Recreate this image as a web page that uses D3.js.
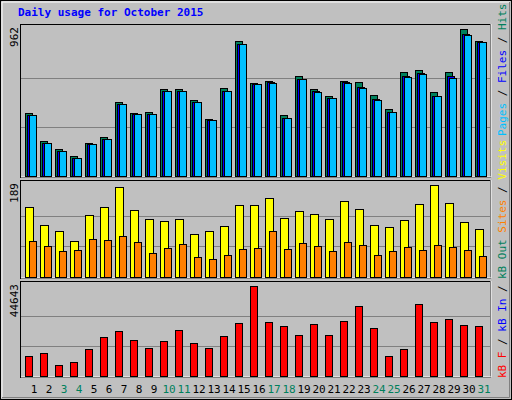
<!DOCTYPE html>
<html><head><meta charset="utf-8">
<script src="https://cdn.jsdelivr.net/npm/d3@7"></script>
<style>body{margin:0;background:#c0c0c0}svg{display:block}text{font-family:"DejaVu Sans Mono",monospace}</style>
</head><body><svg id="c" width="512" height="400"></svg>
<script>
"use strict";

const days = d3.range(1, 32);
const weekend = [3, 4, 10, 11, 17, 18, 24, 25, 31];
const hits = [411,227,175,129,214,254,485,411,418,568,568,496,372,575,883,608,621,398,654,568,522,621,614,529,437,680,693,549,680,962,883];
const files = [402,218,166,120,210,244,474,407,408,559,559,487,368,559,867,604,612,382,638,553,513,612,581,503,422,654,673,526,654,929,880];
const pages = [398,214,162,116,208,240,470,404,404,555,555,483,365,555,863,601,608,378,634,549,509,608,575,496,418,647,667,522,640,922,877];
const visits = [144,107,95,74,127,144,185,138,119,115,119,88,95,105,148,148,162,121,136,129,119,156,140,107,103,117,150,189,152,113,99];
const sites = [74,64,53,55,78,76,84,72,49,60,68,41,37,45,58,60,95,58,70,64,53,72,66,45,53,62,55,66,62,55,43];
const kbytes = [9943,11410,5542,7009,13366,19234,22168,17767,13855,17278,22657,16300,13855,19723,26080,44643,26569,24613,20212,25591,20212,27058,34882,23635,9943,13366,35860,26569,28036,25102,24613];

const svg = d3.select("#c");
const x = d3.scaleBand().domain(days).range([21, 486]).paddingInner(0);

// outer frame
svg.append("rect").attr("x", 0.5).attr("y", 0.5).attr("width", 511).attr("height", 399)
   .attr("fill", "#c0c0c0").attr("stroke", "#000");
svg.append("path").attr("d", "M2,398V2H510").attr("fill", "none").attr("stroke", "#fff");
svg.append("path").attr("d", "M2,397.5H509.5V2").attr("fill", "none").attr("stroke", "#808080");

svg.append("text").attr("x", 18).attr("y", 16).attr("fill", "#0000ff")
   .attr("font-size", 11).attr("font-weight", "bold").text("Daily usage for October 2015");

function panel(top, bottom, max, label, series, legend)
{
    let y = d3.scaleLinear().domain([0, max]).range([bottom - 1, top + 5]);
    svg.append("rect").attr("x", 20.5).attr("y", top + 0.5).attr("width", 470).attr("height", bottom - top)
       .attr("fill", "#c0c0c0").attr("stroke", "#000");
    svg.append("path").attr("d", `M21,${bottom}H491V${top}`).attr("fill", "none").attr("stroke", "#fff");
    [1 / 3, 2 / 3].forEach((f) =>
    {
        svg.append("line").attr("x1", 21).attr("x2", 490)
           .attr("y1", Math.round(y(max * f)) + 0.5).attr("y2", Math.round(y(max * f)) + 0.5)
           .attr("stroke", "#808080");
    });
    series.forEach((s) =>
    {
        svg.append("g").selectAll("rect").data(s.data).join("rect")
           .attr("x", (d, i) => x(days[i]) + 4 + s.off + 0.5)
           .attr("y", (d) => Math.round(y(d)) + 0.5)
           .attr("width", s.w)
           .attr("height", (d) => bottom - 1 - Math.round(y(d)))
           .attr("fill", s.color).attr("stroke", "#000");
    });
    svg.append("text").attr("transform", `translate(18,${top + 3}) rotate(-90)`)
       .attr("text-anchor", "end").attr("font-size", 11).attr("fill", "#000").text(label);
    let t = svg.append("text").attr("transform", `translate(506,${legend.y}) rotate(-90)`)
       .attr("font-size", 11);
    legend.parts.forEach((p) => t.append("tspan").attr("fill", p[1]).text(p[0]));
}

panel(24, 177, 962, "962", [
    {data: hits, color: "#00805c", off: 0, w: 7},
    {data: files, color: "#0000ff", off: 2, w: 7},
    {data: pages, color: "#00c0ff", off: 4, w: 7}
], {y: 136, parts: [["Pages", "#00c0ff"], [" / ", "#000"], ["Files", "#0000ff"], [" / ", "#000"], ["Hits", "#00805c"]]});

panel(180, 278, 189, "189", [
    {data: visits, color: "#ffff00", off: 0, w: 8},
    {data: sites, color: "#ff8000", off: 4, w: 7}
], {y: 279, parts: [["kB Out ", "#00805c"], ["Sites", "#ff8000"], [" / ", "#000"], ["Visits", "#ffff00"]]});

panel(281, 377, 44643, "44643", [
    {data: kbytes, color: "#ff0000", off: 0, w: 7}
], {y: 378, parts: [["kB F", "#ff0000"], [" / ", "#000"], ["kB In", "#0000ff"], [" / ", "#000"]]});

svg.append("g").selectAll("text").data(days).join("text")
   .attr("x", (d) => x(d) + 13).attr("y", 393).attr("text-anchor", "middle").attr("font-size", 11)
   .attr("fill", (d) => weekend.includes(d) ? "#00805c" : "#000").text((d) => d);
</script></body></html>
